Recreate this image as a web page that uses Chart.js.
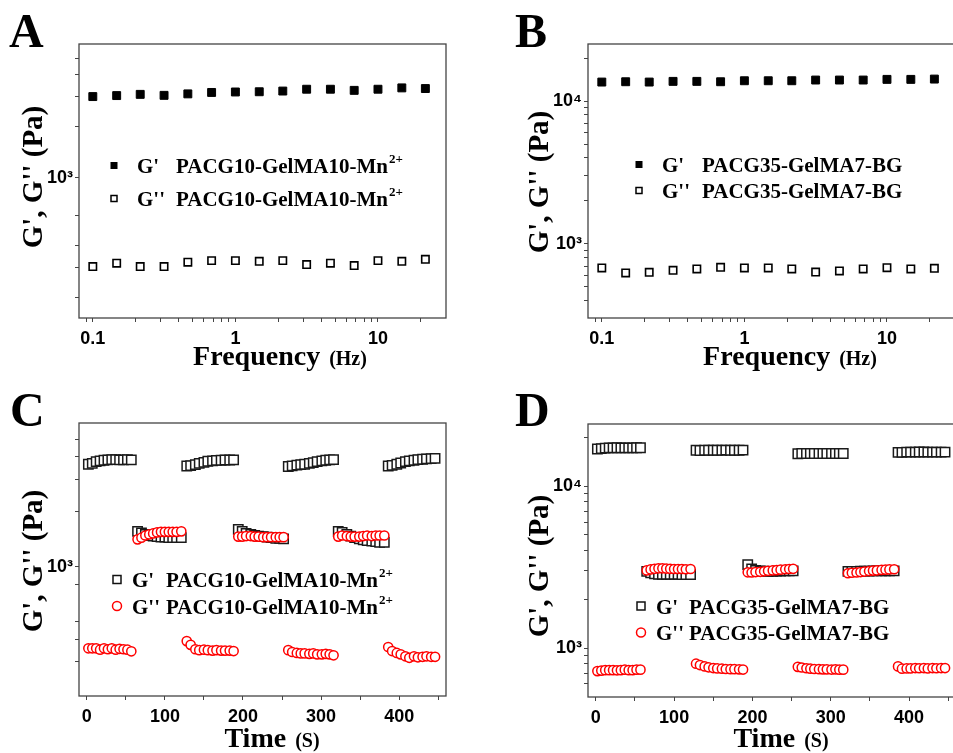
<!DOCTYPE html>
<html>
<head>
<meta charset="utf-8">
<title>Rheology</title>
<script src="https://cdn.jsdelivr.net/npm/chart.js@4.4.0/dist/chart.umd.min.js"></script>
<style>
html, body { margin: 0; padding: 0; background: #fff; overflow: hidden; }
body { width: 953px; height: 753px; position: relative; }
canvas { position: absolute; }
</style>
</head>
<body>
<canvas id="chart-a" width="476" height="376" style="left:0;top:0;width:476px;height:376px"></canvas>
<canvas id="chart-b" width="490" height="376" style="left:476px;top:0;width:490px;height:376px"></canvas>
<canvas id="chart-c" width="476" height="377" style="left:0;top:376px;width:476px;height:377px"></canvas>
<canvas id="chart-d" width="490" height="377" style="left:476px;top:376px;width:490px;height:377px"></canvas>
<script>

// frequency sweeps (Hz)
var freqHz = [0.1, 0.147, 0.215, 0.316, 0.464, 0.681, 1, 1.47, 2.15, 3.16, 4.64, 6.81, 10, 14.7, 21.5];
var gPrimeA = [2980, 3020, 3070, 3030, 3090, 3150, 3170, 3180, 3210, 3290, 3290, 3240, 3290, 3350, 3320];
var gDoubleA = [302, 316, 302, 302, 320, 327, 327, 324, 327, 310, 316, 306, 327, 324, 333];
var gPrimeB = [13590, 13660, 13590, 13740, 13740, 13660, 13880, 13880, 13880, 14040, 14040, 14040, 14190, 14190, 14260];
var gDoubleB = [679, 626, 633, 654, 668, 686, 679, 679, 668, 636, 647, 668, 682, 668, 675];

// alternate strain steps (s)
var timeSec = [
    2, 7, 12, 17, 22, 27, 32, 37, 42, 47, 52, 57,
    65, 70, 75, 80, 85, 90, 95, 100, 105, 110, 115, 121,
    128, 133, 139, 144, 150, 155, 161, 166, 172, 177, 183, 188,
    194, 199, 204, 210, 215, 220, 226, 231, 236, 242, 247, 252,
    258, 263, 269, 274, 279, 285, 290, 295, 301, 306, 311, 316,
    322, 327, 333, 338, 343, 349, 354, 359, 365, 370, 375, 381,
    386, 391, 397, 402, 408, 413, 419, 424, 430, 435, 441, 446
];
var gPrimeC = [
    3640, 3680, 3760, 3800, 3830, 3850, 3860, 3860, 3850, 3850, 3860, 3850,
    1560, 1530, 1500, 1480, 1470, 1460, 1450, 1450, 1440, 1440, 1440, 1440,
    3560, 3580, 3620, 3680, 3730, 3780, 3800, 3820, 3830, 3840, 3840, 3850,
    1600, 1560, 1520, 1500, 1480, 1470, 1460, 1450, 1440, 1430, 1430, 1420,
    3540, 3570, 3600, 3620, 3640, 3680, 3720, 3760, 3800, 3830, 3850, 3860,
    1560, 1540, 1500, 1470, 1440, 1420, 1400, 1390, 1380, 1370, 1360, 1360,
    3560, 3590, 3640, 3700, 3760, 3800, 3830, 3860, 3880, 3900, 3910, 3920
];
var gDoubleC = [
    356, 356, 356, 350, 356, 352, 356, 350, 354, 352, 350, 343,
    1410, 1440, 1480, 1500, 1520, 1540, 1550, 1550, 1550, 1550, 1550, 1560,
    390, 372, 352, 348, 350, 348, 346, 348, 346, 346, 346, 344,
    1460, 1460, 1470, 1470, 1460, 1460, 1450, 1450, 1450, 1450, 1450, 1450,
    348, 340, 336, 334, 334, 332, 334, 330, 330, 332, 330, 326,
    1460, 1480, 1470, 1460, 1460, 1460, 1470, 1480, 1470, 1480, 1480, 1480,
    362, 344, 336, 330, 322, 316, 322, 318, 320, 322, 320, 320
];
var gPrimeD = [
    17000, 17100, 17200, 17260, 17260, 17300, 17260, 17260, 17260, 17260, 17300, 17300,
    2980, 2920, 2880, 2860, 2860, 2860, 2860, 2860, 2860, 2850, 2850, 2850,
    16700, 16650, 16700, 16700, 16700, 16700, 16700, 16750, 16700, 16700, 16700, 16750,
    3280, 3080, 3020, 3000, 2990, 2980, 2980, 2990, 2990, 3000, 3000, 3000,
    15900, 15950, 15950, 15950, 15950, 15950, 15950, 15950, 15950, 15950, 15950, 15950,
    2980, 2980, 2980, 2990, 2990, 2990, 3000, 3000, 3000, 3000, 3000, 3000,
    16200, 16200, 16250, 16250, 16250, 16300, 16300, 16250, 16250, 16250, 16250, 16250
];
var gDoubleD = [
    720, 725, 730, 730, 730, 728, 730, 735, 730, 730, 735, 735,
    3020, 3060, 3090, 3110, 3110, 3100, 3090, 3080, 3080, 3080, 3070, 3080,
    800, 785, 770, 760, 752, 748, 745, 742, 740, 740, 738, 736,
    2940, 2930, 2950, 2960, 2980, 3000, 3020, 3030, 3050, 3070, 3080, 3090,
    765, 758, 750, 745, 742, 740, 738, 738, 736, 738, 735, 735,
    2900, 2920, 2930, 2950, 2970, 2990, 3010, 3020, 3040, 3050, 3060, 3070,
    770, 745, 748, 748, 752, 750, 752, 748, 752, 750, 752, 752
];

// axis ticks and their labels
var freqTicks = [0.09, 0.1, 0.2, 0.3, 0.4, 0.5, 0.6, 0.7, 0.8, 0.9, 1, 2, 3, 4, 5, 6, 7, 8, 9, 10, 20];
var freqLabelValues = [0.1, 1, 10];
var freqLabels = ['0.1', '1', '10'];
var timeTicks = [0, 50, 100, 150, 200, 250, 300, 350, 400, 450];
var timeLabelValues = [0, 100, 200, 300, 400];
var timeLabels = ['0', '100', '200', '300', '400'];
var modTicksA = [200, 300, 400, 600, 1000, 2000, 3000, 4000, 5000];
var modTicksB = [400, 500, 600, 700, 800, 900, 1000, 2000, 3000, 4000, 5000, 6000, 7000, 8000, 9000, 10000, 20000];
var modTicksC = [300, 400, 500, 800, 1000, 2000, 3000, 4000, 5000];
var modTicksD = [600, 700, 800, 900, 1000, 2000, 3000, 4000, 5000, 6000, 7000, 8000, 9000, 10000, 20000];
var decadeValues = [1000, 10000];
var decadeLabels = ['10\u00B3', '10\u2074'];

var sampleA = 'PACG10-GelMA10-Mn';
var sampleB = 'PACG35-GelMA7-BG';

var serif = '"Liberation Serif", "Times New Roman", serif';
var sans = '"Liberation Sans", Arial, sans-serif';


function points(xs, ys) {
    return xs.map(function (x, i) { return { x: x, y: ys[i] }; });
}

function labelFrom(values, labels) {
    return function (value) {
        let i = values.indexOf(value);
        return i >= 0 ? labels[i] : '';
    };
}

function drawMarker(ctx, kind, x, y) {
    ctx.save();
    ctx.lineWidth = 1.5;
    if (kind === 'filled') {
        ctx.fillStyle = '#000';
        ctx.fillRect(x - 3.5, y - 3.5, 7, 7);
    } else if (kind === 'open') {
        ctx.strokeStyle = '#000';
        ctx.strokeRect(x - 3, y - 3, 6, 6);
    } else if (kind === 'square') {
        ctx.strokeStyle = '#111';
        ctx.strokeRect(x - 4, y - 4, 8, 8);
    } else {
        ctx.strokeStyle = '#ff0000';
        ctx.beginPath();
        ctx.arc(x, y, 4.5, 0, Math.PI * 2);
        ctx.stroke();
    }
    ctx.restore();
}

var decorPlugin = {
    id: 'decor',
    afterDraw: function (chart, args, opts) {
        let ctx = chart.ctx;
        let area = chart.chartArea;

        ctx.save();
        ctx.strokeStyle = '#444';
        ctx.lineWidth = 1.3;
        ctx.strokeRect(area.left, area.top, area.right - area.left, area.bottom - area.top);

        ctx.fillStyle = '#000';
        ctx.textBaseline = 'alphabetic';

        // panel letter
        ctx.font = 'bold 48px ' + serif;
        ctx.textAlign = 'left';
        ctx.fillText(opts.letter, opts.letterX, opts.letterY);

        // x title: big word plus smaller unit
        ctx.font = 'bold 28px ' + serif;
        let wWord = ctx.measureText(opts.xTitle).width;
        ctx.font = 'bold 20px ' + serif;
        let wUnit = ctx.measureText(opts.xUnit).width;
        let gap = 9;
        let x0 = opts.xTitleX - (wWord + gap + wUnit) / 2;
        ctx.font = 'bold 28px ' + serif;
        ctx.fillText(opts.xTitle, x0, opts.xTitleY);
        ctx.font = 'bold 20px ' + serif;
        ctx.fillText(opts.xUnit, x0 + wWord + gap, opts.xTitleY);

        // y title
        ctx.save();
        ctx.translate(opts.yTitleX, opts.yTitleY);
        ctx.rotate(-Math.PI / 2);
        ctx.font = 'bold 29px ' + serif;
        ctx.textAlign = 'center';
        ctx.fillText("G', G'' (Pa)", 0, 0);
        ctx.restore();

        // legend
        opts.legend.forEach(function (row) {
            drawMarker(ctx, row.marker, opts.markerX, row.y);
            let base = row.y + 7.5;
            ctx.font = 'bold 21px ' + serif;
            ctx.textAlign = 'left';
            ctx.fillText(row.tag, opts.tagX, base);
            ctx.fillText(row.name, opts.nameX, base);
            if (row.sup) {
                let w = ctx.measureText(row.name).width;
                ctx.font = 'bold 13px ' + serif;
                ctx.fillText(row.sup, opts.nameX + w + 1, base - 10);
            }
        });
        ctx.restore();
    }
};

function makePanel(id, cfg) {
    let canvas = document.getElementById(id);
    let ctx = canvas.getContext('2d');

    let tickFont = { family: sans, size: 18, weight: 'bold' };
    let gridOpts = { display: true, drawOnChartArea: false, drawTicks: true, tickLength: 4, color: '#444', lineWidth: 1 };

    return new Chart(ctx, {
        type: 'scatter',
        data: { datasets: cfg.datasets },
        options: {
            responsive: false,
            animation: false,
            events: [],
            layout: { padding: { top: cfg.padTop, right: cfg.padRight, left: 0, bottom: 0 } },
            plugins: {
                legend: { display: false },
                tooltip: { enabled: false },
                decor: cfg.decor
            },
            scales: {
                x: {
                    type: cfg.xType,
                    min: cfg.xMin,
                    max: cfg.xMax,
                    border: { display: false },
                    grid: gridOpts,
                    ticks: {
                        autoSkip: false,
                        maxRotation: 0,
                        padding: 6,
                        color: '#000',
                        font: tickFont,
                        callback: labelFrom(cfg.xLabelValues, cfg.xLabels)
                    },
                    afterBuildTicks: function (scale) {
                        scale.ticks = cfg.xTicks.map(function (v) { return { value: v }; });
                    },
                    afterFit: function (scale) { scale.height = cfg.axisBottom; }
                },
                y: {
                    type: 'logarithmic',
                    min: cfg.yMin,
                    max: cfg.yMax,
                    border: { display: false },
                    grid: gridOpts,
                    ticks: {
                        autoSkip: false,
                        padding: 2,
                        color: '#000',
                        font: tickFont,
                        callback: labelFrom(decadeValues, decadeLabels)
                    },
                    afterBuildTicks: function (scale) {
                        scale.ticks = cfg.yTicks.map(function (v) { return { value: v }; });
                    },
                    afterFit: function (scale) { scale.width = cfg.axisLeft; }
                }
            }
        },
        plugins: [decorPlugin]
    });
}

function sweepSets(gp, gd) {
    return [{
        label: "G'",
        data: points(freqHz, gp),
        pointStyle: 'rect',
        pointRadius: 5.6,
        backgroundColor: '#000',
        borderColor: '#000',
        borderWidth: 1
    }, {
        label: "G''",
        data: points(freqHz, gd),
        pointStyle: 'rect',
        pointRadius: 5.2,
        backgroundColor: '#fff',
        borderColor: '#000',
        borderWidth: 1.6
    }];
}

function stepSets(gp, gd) {
    return [{
        label: "G'",
        data: points(timeSec, gp),
        order: 2,
        pointStyle: 'rect',
        pointRadius: 6.6,
        backgroundColor: '#fff',
        borderColor: '#1a1a1a',
        borderWidth: 1.5
    }, {
        label: "G''",
        data: points(timeSec, gd),
        order: 1,
        pointStyle: 'circle',
        pointRadius: 4.6,
        backgroundColor: '#fff',
        borderColor: '#ff0000',
        borderWidth: 1.5
    }];
}

makePanel('chart-a', {
    datasets: sweepSets(gPrimeA, gDoubleA),
    padTop: 44, padRight: 30, axisLeft: 79, axisBottom: 58,
    xType: 'logarithmic', xMin: 0.08, xMax: 30,
    xTicks: freqTicks, xLabelValues: freqLabelValues, xLabels: freqLabels,
    yMin: 151, yMax: 6050, yTicks: modTicksA,
    decor: {
        letter: 'A', letterX: 9, letterY: 47,
        xTitle: 'Frequency', xUnit: '(Hz)', xTitleX: 280, xTitleY: 365,
        yTitleX: 42, yTitleY: 177,
        markerX: 114, tagX: 137, nameX: 176,
        legend: [
            { marker: 'filled', y: 165.5, tag: "G'", name: sampleA, sup: '2+' },
            { marker: 'open', y: 198.5, tag: "G''", name: sampleA, sup: '2+' }
        ]
    }
});

makePanel('chart-b', {
    datasets: sweepSets(gPrimeB, gDoubleB),
    padTop: 44, padRight: 11, axisLeft: 112, axisBottom: 58,
    xType: 'logarithmic', xMin: 0.08, xMax: 30,
    xTicks: freqTicks, xLabelValues: freqLabelValues, xLabels: freqLabels,
    yMin: 303, yMax: 25100, yTicks: modTicksB,
    decor: {
        letter: 'B', letterX: 39, letterY: 47,
        xTitle: 'Frequency', xUnit: '(Hz)', xTitleX: 314, xTitleY: 365,
        yTitleX: 72, yTitleY: 182,
        markerX: 163, tagX: 186, nameX: 226,
        legend: [
            { marker: 'filled', y: 164.5, tag: "G'", name: sampleB },
            { marker: 'open', y: 190.5, tag: "G''", name: sampleB }
        ]
    }
});

makePanel('chart-c', {
    datasets: stepSets(gPrimeC, gDoubleC),
    padTop: 47, padRight: 30, axisLeft: 79, axisBottom: 57,
    xType: 'linear', xMin: -10, xMax: 460,
    xTicks: timeTicks, xLabelValues: timeLabelValues, xLabels: timeLabels,
    yMin: 195, yMax: 6130, yTicks: modTicksC,
    decor: {
        letter: 'C', letterX: 10, letterY: 50,
        xTitle: 'Time', xUnit: '(S)', xTitleX: 272, xTitleY: 371,
        yTitleX: 42, yTitleY: 185,
        markerX: 117, tagX: 132, nameX: 166,
        legend: [
            { marker: 'square', y: 203.5, tag: "G'", name: sampleA, sup: '2+' },
            { marker: 'circle', y: 230, tag: "G''", name: sampleA, sup: '2+' }
        ]
    }
});

makePanel('chart-d', {
    datasets: stepSets(gPrimeD, gDoubleD),
    padTop: 48, padRight: 10, axisLeft: 112, axisBottom: 56,
    xType: 'linear', xMin: -10, xMax: 460,
    xTicks: timeTicks, xLabelValues: timeLabelValues, xLabels: timeLabels,
    yMin: 498, yMax: 24270, yTicks: modTicksD,
    decor: {
        letter: 'D', letterX: 39, letterY: 50,
        xTitle: 'Time', xUnit: '(S)', xTitleX: 305, xTitleY: 371,
        yTitleX: 72, yTitleY: 190,
        markerX: 165, tagX: 180, nameX: 213,
        legend: [
            { marker: 'square', y: 230, tag: "G'", name: sampleB },
            { marker: 'circle', y: 256.5, tag: "G''", name: sampleB }
        ]
    }
});
</script>
</body>
</html>
